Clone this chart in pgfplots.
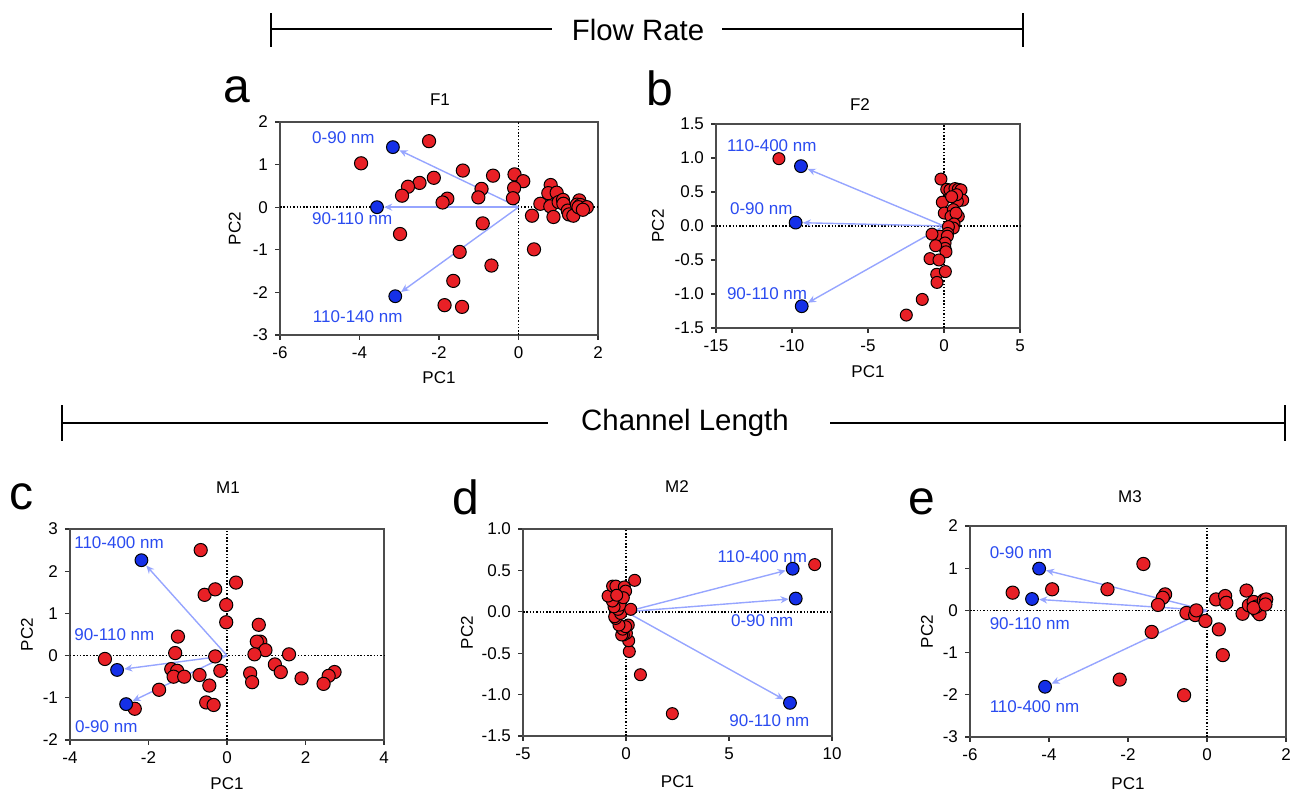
\documentclass[border=0pt]{standalone}
\usepackage{fontspec}
\setmainfont{Liberation Sans}
\usepackage{pgfplots}
\pgfplotsset{compat=1.18}
\usetikzlibrary{arrows.meta}

\definecolor{ptred}{HTML}{E82026}
\definecolor{ptblue}{HTML}{1530E8}
\definecolor{lblblue}{HTML}{2A4BF0}
\definecolor{arrc}{HTML}{96A5FF}

\newcommand{\fs}{\fontsize{8.5}{10}\selectfont}

\tikzset{lbl/.style={anchor=west, inner sep=0pt, text=lblblue, font=\fs}}

\pgfplotsset{
  pca/.style={
    scale only axis, clip=false,
    axis line style={draw=black!70, line width=0.6pt},
    tick align=outside, xtick pos=left, ytick pos=left,
    major tick length=2.5pt,
    tick style={black!80, line width=0.6pt},
    ticklabel style={font=\fs},
    label style={font=\fs},
    /pgf/number format/assume math mode=true,
    xlabel={PC1}, ylabel={PC2},
  },
  zline/.style={black, line width=0.75pt, dash pattern=on 0.75pt off 0.9pt, forget plot},
  vec/.style={arrc, line width=0.7pt, -{Stealth[length=4pt,width=3.5pt]}, shorten >=3.6pt},
  reds/.style={only marks, mark=*, mark size=3.3pt, mark options={fill=ptred, draw=black, line width=0.5pt}},
  blues/.style={only marks, mark=*, mark size=3.2pt, mark options={fill=ptblue, draw=black, line width=0.5pt}},
}

\begin{document}
\begin{tikzpicture}
\useasboundingbox (0pt,0pt) rectangle (646pt,398pt);

% group headers
\draw[line width=0.7pt] (135.5pt,383.5pt) -- (276pt,383.5pt);
\draw[line width=0.7pt] (361pt,383.5pt) -- (511.5pt,383.5pt);
\draw[line width=0.7pt] (135.5pt,374.5pt) -- (135.5pt,391.5pt);
\draw[line width=0.7pt] (511.5pt,374.5pt) -- (511.5pt,391.5pt);
\node[font=\fontsize{14.7}{16}\selectfont] at (319pt,383pt) {Flow Rate};

\draw[line width=0.7pt] (31pt,186.5pt) -- (274pt,186.5pt);
\draw[line width=0.7pt] (415pt,186.5pt) -- (642.5pt,186.5pt);
\draw[line width=0.7pt] (31pt,177.5pt) -- (31pt,195.5pt);
\draw[line width=0.7pt] (642.5pt,177.5pt) -- (642.5pt,195.5pt);
\node[font=\fontsize{14.7}{16}\selectfont] at (342.5pt,186.5pt) {Channel Length};

% panel letters and titles
\node[font=\fontsize{24}{26}\selectfont] at (118.5pt,353pt) {a};
\node[font=\fontsize{24}{26}\selectfont] at (330pt,354pt) {b};
\node[font=\fontsize{24}{26}\selectfont] at (11pt,149.5pt) {c};
\node[font=\fontsize{24}{26}\selectfont] at (233pt,149.5pt) {d};
\node[font=\fontsize{24}{26}\selectfont] at (461pt,147pt) {e};
\node[font=\fs] at (220pt,348pt) {F1};
\node[font=\fs] at (430pt,345.5pt) {F2};
\node[font=\fs] at (114pt,154pt) {M1};
\node[font=\fs] at (338.5pt,154.5pt) {M2};
\node[font=\fs] at (565pt,149.5pt) {M3};

% ---- a: F1
\begin{axis}[pca, at={(140pt,230.5pt)}, anchor=south west, width=159pt, height=106.5pt,
  xmin=-6, xmax=2, ymin=-3, ymax=2, xtick={-6,-4,-2,0,2}, ytick={-3,-2,-1,0,1,2},
  xlabel style={at={(axis description cs:0.5,-0.202)}, anchor=center},
  ylabel style={at={(axis description cs:-0.142,0.5)}, anchor=center}]
\addplot[zline] coordinates {(-6,0) (2,0)};
\addplot[zline] coordinates {(0,-3) (0,2)};
\addplot[vec] coordinates {(0,0) (-3.16,1.41)};
\addplot[vec] coordinates {(0,0) (-3.56,0)};
\addplot[vec] coordinates {(0,0) (-3.10,-2.09)};
\addplot[reds] coordinates {(-3.96,1.03) (-2.25,1.55) (-1.40,0.86) (-0.64,0.74) (-0.10,0.77) (0.12,0.61) (-2.13,0.69) (-2.49,0.57) (-2.78,0.48) (-2.93,0.27) (-1.79,0.20) (-1.91,0.11) (-0.93,0.43) (-1.01,0.23) (-0.11,0.45) (-0.14,0.21) (-2.98,-0.63) (-0.90,-0.38) (-1.48,-1.05) (-0.68,-1.37) (-1.64,-1.73) (-1.86,-2.30) (-1.42,-2.34) (0.34,-0.20) (0.39,-0.99) (0.55,0.08) (0.81,0.52) (0.75,0.33) (0.96,0.34) (0.80,0.02) (1.01,0.12) (0.88,-0.23) (1.12,0.17) (1.13,0.08) (1.24,-0.08) (1.27,-0.17) (1.38,-0.20) (1.53,0.16) (1.47,0.06) (1.56,0.05) (1.51,0.0) (1.72,0.0) (1.62,-0.06)};
\addplot[blues] coordinates {(-3.16,1.41) (-3.56,0) (-3.10,-2.09)};
\node[lbl] at (axis cs:-5.2,1.64) {0-90 nm};
\node[lbl] at (axis cs:-5.2,-0.27) {90-110 nm};
\node[lbl] at (axis cs:-5.18,-2.58) {110-140 nm};
\end{axis}

% ---- b: F2
\begin{axis}[pca, at={(358pt,234pt)}, anchor=south west, width=152pt, height=102pt,
  xmin=-15, xmax=5, ymin=-1.5, ymax=1.5, xtick={-15,-10,-5,0,5}, ytick={-1.5,-1,-0.5,0,0.5,1,1.5},
  yticklabel style={/pgf/number format/.cd, fixed, fixed zerofill, precision=1},
  xlabel style={at={(axis description cs:0.5,-0.216)}, anchor=center},
  ylabel style={at={(axis description cs:-0.191,0.5)}, anchor=center}]
\addplot[zline] coordinates {(-15,0) (5,0)};
\addplot[zline] coordinates {(0,-1.5) (0,1.5)};
\addplot[vec] coordinates {(0,0) (-9.41,0.88)};
\addplot[vec] coordinates {(0,0) (-9.76,0.05)};
\addplot[vec] coordinates {(0,0) (-9.36,-1.18)};
\addplot[reds, mark size=3pt] coordinates {(-10.86,0.99) (-0.20,0.69) (-0.11,0.35) (0.02,0.19) (0.18,0.54) (0.39,0.53) (0.72,0.55) (0.94,0.54) (1.12,0.53) (1.23,0.38) (0.88,0.36) (0.83,0.46) (0.50,0.43) (0.61,0.24) (0.46,0.14) (0.94,0.14) (0.79,0.19) (0.66,0.03) (0.61,-0.03) (0.29,-0.01) (0.24,-0.11) (-0.26,-0.15) (-0.79,-0.12) (0.22,-0.15) (0.07,-0.25) (0.07,-0.33) (0.13,-0.38) (-0.55,-0.29) (-0.92,-0.48) (-0.33,-0.50) (-0.48,-0.71) (0.09,-0.67) (-0.46,-0.83) (-1.43,-1.08) (-2.48,-1.31)};
\addplot[blues] coordinates {(-9.41,0.88) (-9.76,0.05) (-9.36,-1.18)};
\node[lbl] at (axis cs:-14.3,1.18) {110-400 nm};
\node[lbl] at (axis cs:-14.1,0.25) {0-90 nm};
\node[lbl] at (axis cs:-14.3,-0.99) {90-110 nm};
\end{axis}

% ---- c: M1
\begin{axis}[pca, at={(35pt,28pt)}, anchor=south west, width=157pt, height=105.5pt,
  xmin=-4, xmax=4, ymin=-2, ymax=3, xtick={-4,-2,0,2,4}, ytick={-2,-1,0,1,2,3},
  xlabel style={at={(axis description cs:0.5,-0.209)}, anchor=center},
  ylabel style={at={(axis description cs:-0.137,0.5)}, anchor=center}]
\addplot[zline] coordinates {(-4,0) (4,0)};
\addplot[zline] coordinates {(0,-2) (0,3)};
\addplot[vec] coordinates {(0,0) (-2.18,2.26)};
\addplot[vec] coordinates {(0,0) (-2.80,-0.34)};
\addplot[vec] coordinates {(0,0) (-2.57,-1.15)};
\addplot[reds] coordinates {(-0.67,2.50) (0.23,1.73) (-0.57,1.44) (-0.30,1.57) (-0.02,1.20) (-0.02,0.79) (-1.25,0.45) (-1.32,0.06) (-3.11,-0.08) (-0.30,-0.02) (-1.42,-0.32) (-1.27,-0.36) (-1.36,-0.50) (-1.09,-0.50) (-0.70,-0.46) (-0.17,-0.36) (-0.45,-0.71) (-1.73,-0.81) (-0.53,-1.11) (-0.34,-1.17) (-2.35,-1.26) (0.81,0.73) (0.85,0.33) (0.76,0.33) (0.98,0.13) (0.70,0.03) (1.58,0.03) (0.59,-0.42) (0.64,-0.63) (1.22,-0.21) (1.37,-0.39) (1.90,-0.54) (2.74,-0.39) (2.59,-0.48) (2.46,-0.67)};
\addplot[blues] coordinates {(-2.18,2.26) (-2.80,-0.34) (-2.57,-1.15)};
\node[lbl] at (axis cs:-3.9,2.68) {110-400 nm};
\node[lbl] at (axis cs:-3.9,0.49) {90-110 nm};
\node[lbl] at (axis cs:-3.88,-1.68) {0-90 nm};
\end{axis}

% ---- d: M2
\begin{axis}[pca, at={(261.5pt,30pt)}, anchor=south west, width=154.5pt, height=103.5pt,
  xmin=-5, xmax=10, ymin=-1.5, ymax=1, xtick={-5,0,5,10}, ytick={-1.5,-1,-0.5,0,0.5,1},
  yticklabel style={/pgf/number format/.cd, fixed, fixed zerofill, precision=1},
  xlabel style={at={(axis description cs:0.5,-0.222)}, anchor=center},
  ylabel style={at={(axis description cs:-0.181,0.5)}, anchor=center}]
\addplot[zline] coordinates {(-5,0) (10,0)};
\addplot[zline] coordinates {(0,-1.5) (0,1)};
\addplot[vec] coordinates {(0,0) (8.09,0.52)};
\addplot[vec] coordinates {(0,0) (8.24,0.16)};
\addplot[vec] coordinates {(0,0) (7.96,-1.10)};
\addplot[reds, mark size=3pt] coordinates {(9.16,0.57) (2.25,-1.23) (0.70,-0.76) (0.42,0.38) (0.16,-0.48) (0.13,-0.35) (0.02,-0.26) (-0.13,-0.28) (0.11,-0.16) (-0.21,-0.28) (-0.16,-0.21) (-0.02,-0.18) (-0.34,-0.16) (-0.50,-0.08) (-0.55,-0.06) (-0.26,-0.02) (-0.39,0.03) (-0.29,0.08) (-0.58,0.06) (-0.66,0.13) (-0.87,0.19) (-0.65,0.31) (-0.49,0.31) (-0.08,0.30) (-0.02,0.25) (-0.13,0.17) (-0.45,0.20) (0.23,0.03)};
\addplot[blues] coordinates {(8.09,0.52) (8.24,0.16) (7.96,-1.10)};
\node[lbl] at (axis cs:4.43,0.66) {110-400 nm};
\node[lbl] at (axis cs:5.08,-0.11) {0-90 nm};
\node[lbl] at (axis cs:5.0,-1.31) {90-110 nm};
\end{axis}

% ---- e: M3
\begin{axis}[pca, at={(485pt,29.5pt)}, anchor=south west, width=158pt, height=105.5pt,
  xmin=-6, xmax=2, ymin=-3, ymax=2, xtick={-6,-4,-2,0,2}, ytick={-3,-2,-1,0,1,2},
  xlabel style={at={(axis description cs:0.5,-0.223)}, anchor=center},
  ylabel style={at={(axis description cs:-0.136,0.5)}, anchor=center}]
\addplot[zline] coordinates {(-6,0) (2,0)};
\addplot[zline] coordinates {(0,-3) (0,2)};
\addplot[vec] coordinates {(0,0) (-4.25,0.99)};
\addplot[vec] coordinates {(0,0) (-4.43,0.27)};
\addplot[vec] coordinates {(0,0) (-4.10,-1.81)};
\addplot[reds] coordinates {(-4.92,0.42) (-3.92,0.50) (-2.52,0.50) (-1.61,1.10) (-1.06,0.38) (-1.12,0.30) (-1.24,0.13) (-1.40,-0.51) (-2.21,-1.64) (-0.58,-2.01) (-0.52,-0.06) (-0.30,-0.11) (-0.27,0.00) (-0.04,-0.25) (0.30,-0.45) (0.40,-1.06) (0.23,0.26) (0.46,0.34) (0.49,0.18) (1.00,0.47) (0.90,-0.08) (1.06,0.12) (1.18,0.20) (1.27,-0.02) (1.33,-0.09) (1.25,0.09) (1.18,0.06) (1.44,0.24) (1.50,0.26) (1.48,0.14)};
\addplot[blues] coordinates {(-4.25,0.99) (-4.43,0.27) (-4.10,-1.81)};
\node[lbl] at (axis cs:-5.51,1.37) {0-90 nm};
\node[lbl] at (axis cs:-5.51,-0.31) {90-110 nm};
\node[lbl] at (axis cs:-5.51,-2.27) {110-400 nm};
\end{axis}
\end{tikzpicture}
\end{document}
